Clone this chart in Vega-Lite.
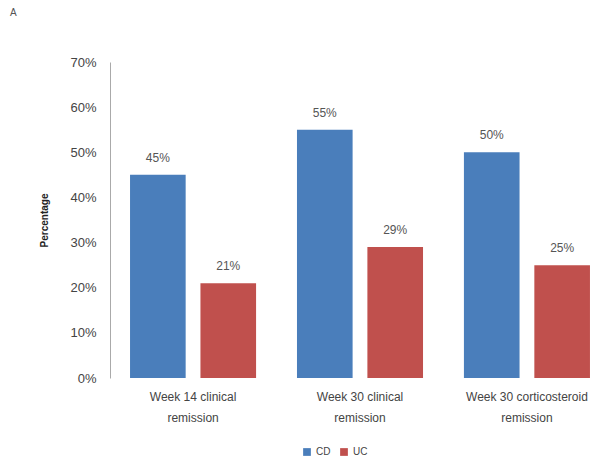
{
  "$schema": "https://vega.github.io/schema/vega-lite/v6.json",
  "autosize": "none",
  "padding": {"left": 110, "top": 62, "right": 0, "bottom": 90},
  "width": 500,
  "height": 316,
  "background": "white",
  "title": {"text": "A", "anchor": "start", "frame": "group", "dx": -100, "offset": 38, "fontSize": 10, "font": "Liberation Sans", "fontWeight": "normal", "color": "#555555"},
  "config": {
    "view": {"stroke": null},
    "font": "Liberation Sans"
  },
  "data": {
    "values": [
      {"category": "Week 14 clinical remission", "group": "CD", "value": 0.45},
      {"category": "Week 14 clinical remission", "group": "UC", "value": 0.21},
      {"category": "Week 30 clinical remission", "group": "CD", "value": 0.55},
      {"category": "Week 30 clinical remission", "group": "UC", "value": 0.29},
      {"category": "Week 30 corticosteroid remission", "group": "CD", "value": 0.50},
      {"category": "Week 30 corticosteroid remission", "group": "UC", "value": 0.25}
    ]
  },
  "encoding": {
    "x": {
      "field": "category", "type": "nominal", "sort": null,
      "scale": {"paddingInner": 0.245, "paddingOuter": 0.12},
      "axis": {
        "title": null, "labelAngle": 0, "domain": false, "ticks": false,
        "labelExpr": "datum.label == 'Week 30 corticosteroid remission' ? ['Week 30 corticosteroid', 'remission'] : [replace(datum.label, ' remission', ''), 'remission']",
        "labelFontSize": 12, "labelColor": "#444444", "labelPadding": 13, "labelLineHeight": 21
      }
    },
    "xOffset": {"field": "group", "type": "nominal", "scale": {"paddingInner": 0.21, "paddingOuter": 0}},
    "y": {
      "field": "value", "type": "quantitative",
      "scale": {"domain": [0, 0.7]},
      "axis": {
        "title": "Percentage", "titleFontSize": 10, "titleFontWeight": "bold", "titleColor": "#222222", "titlePadding": 20,
        "format": ".0%", "tickCount": 7, "grid": false, "ticks": false,
        "domainColor": "#aaaaaa", "labelFontSize": 13, "labelColor": "#444444", "labelPadding": 14
      }
    },
    "color": {
      "field": "group", "type": "nominal",
      "scale": {"domain": ["CD", "UC"], "range": ["#4a7ebb", "#c0504d"]},
      "legend": {
        "title": null, "orient": "none", "legendX": 192, "legendY": 385, "direction": "horizontal",
        "symbolType": "square", "symbolSize": 60, "symbolStrokeWidth": 0, "labelFontSize": 10, "labelColor": "#444444", "columnPadding": 8
      }
    }
  },
  "layer": [
    {"mark": {"type": "bar"}},
    {
      "mark": {"type": "text", "dy": -17, "fontSize": 12, "color": "#555555"},
      "encoding": {"text": {"field": "value", "type": "quantitative", "format": ".0%"}, "color": {"value": "#555555"}}
    }
  ]
}
